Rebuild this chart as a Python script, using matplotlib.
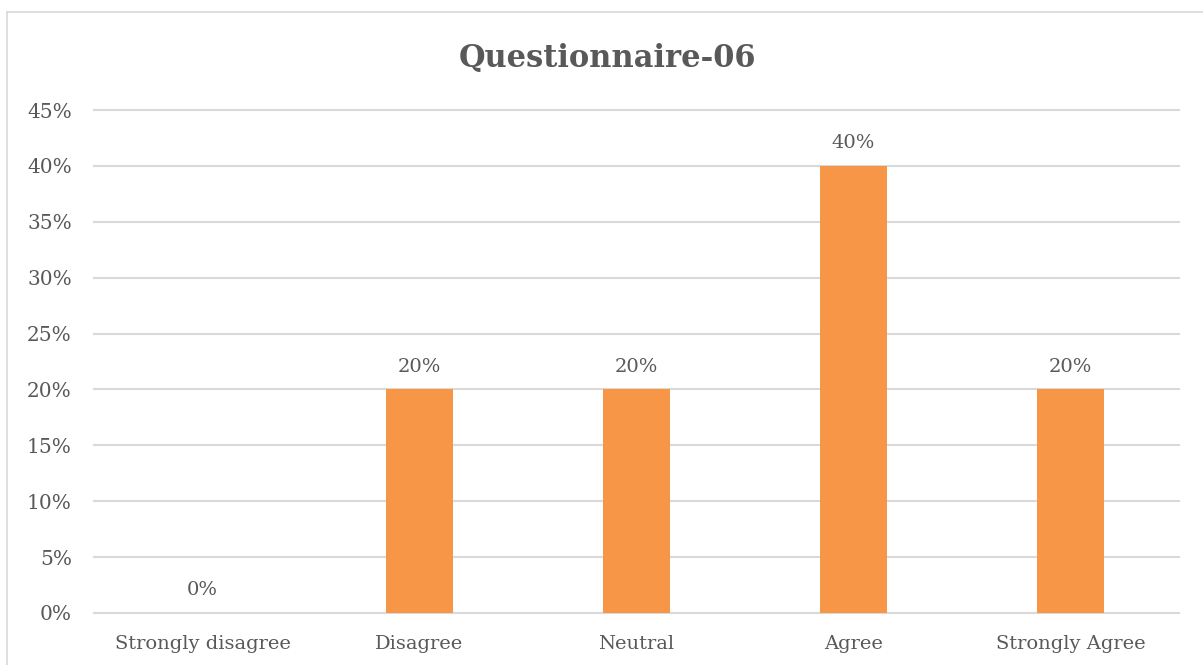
import matplotlib
matplotlib.use("Agg")
import matplotlib.pyplot as plt
from matplotlib.lines import Line2D

categories = ["Strongly disagree", "Disagree", "Neutral", "Agree", "Strongly Agree"]
values = [0.0, 0.20, 0.20, 0.40, 0.20]
yticks = [0.0, 0.05, 0.10, 0.15, 0.20, 0.25, 0.30, 0.35, 0.40, 0.45]
title = "Questionnaire-06"

W, H = 1203, 665
plt.rcParams['font.family'] = ['DejaVu Serif']
text_color = '#595959'
bar_color = '#F79646'
grid_color = '#D9D9D9'

fig = plt.figure(figsize=(W / 100, H / 100), dpi=100)
ax = fig.add_axes([94 / W, (H - 613) / H, 1085 / W, 503 / H])

x = range(len(categories))
ax.bar(x, values, width=0.31, color=bar_color, zorder=3)
for xi, v in zip(x, values):
    ax.annotate(f"{v * 100:.0f}%", (xi, v), xytext=(0, 10), textcoords='offset points',
                ha='center', va='bottom', fontsize=14, color=text_color)

ax.set_xlim(-0.5, len(categories) - 0.5)
ax.set_ylim(0, 0.45)
ax.set_yticks(yticks)
ax.set_yticklabels([f"{t * 100:.0f}%" for t in yticks])
ax.set_xticks(list(x))
ax.set_xticklabels(categories)
ax.tick_params(axis='y', length=0, pad=16, labelsize=14.5, labelcolor=text_color)
ax.tick_params(axis='x', length=0, pad=16, labelsize=14, labelcolor=text_color)
ax.grid(axis='y', color=grid_color, linewidth=1.5, zorder=0)
for gl in ax.get_ygridlines():
    gl.set_clip_on(False)
ax.set_axisbelow(True)
for s in ax.spines.values():
    s.set_visible(False)

fig.text(608 / W, 1 - 58 / H, title, ha='center', va='center', fontsize=22,
         fontweight='bold', color=text_color)

# chart border (left and top visible)
fig.add_artist(Line2D([7 / W, 7 / W], [0, 1 - 12 / H], transform=fig.transFigure,
                      color='#D9D9D9', linewidth=1.2))
fig.add_artist(Line2D([7 / W, 1], [1 - 12 / H, 1 - 12 / H], transform=fig.transFigure,
                      color='#D9D9D9', linewidth=1.2))

fig.savefig("out.png", dpi=100)
